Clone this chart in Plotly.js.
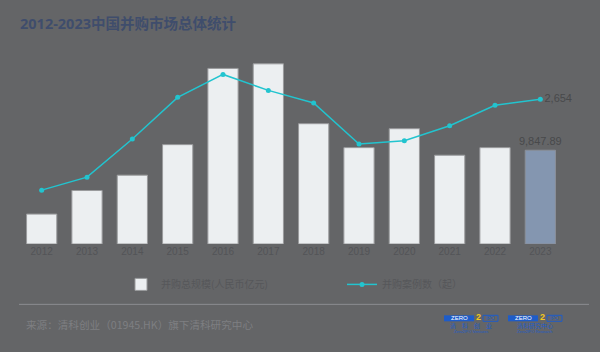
<!DOCTYPE html>
<html><head><meta charset="utf-8">
<script src="https://cdn.plot.ly/plotly-3.0.1.min.js"></script>
<style>html,body{margin:0;padding:0;background:#646567;}#chart{width:600px;height:352px;}</style>
</head><body><div id="chart"></div>
<script>
const years = ['2012','2013','2014','2015','2016','2017','2018','2019','2020','2021','2022','2023'];
const dealValue = [3143, 5615, 7228, 10434, 18438, 18920, 12634, 10120, 12110, 9324, 10120, 9847.89];
const dealCount = [988, 1226, 1927, 2690, 3111, 2818, 2586, 1835, 1896, 2170, 2544, 2654];
const seriesNames = ['并购总规模(人民币亿元)', '并购案例数（起）'];
const titleText = '2012-2023中国并购市场总体统计';
const sourceText = '来源：清科创业（01945.HK）旗下清科研究中心';

const fmt = (v, d) => v.toLocaleString('en-US', {minimumFractionDigits: d, maximumFractionDigits: d});
const last = years.length - 1;
const barColors = years.map((y, i) => i === last ? '#8496b0' : '#eceff1');
const barLines = years.map((y, i) => i === last ? '#8a8f98' : '#9a9b9d');
const barText = dealValue.map((v, i) => i === last ? fmt(v, 2) : '');
const lineText = dealCount.map((v, i) => i === last ? fmt(v, 0) : '');

const cjk = '"Noto Sans CJK SC", "Noto Sans", sans-serif';
const titleFamily = '"Noto Sans", "Noto Sans CJK SC", sans-serif';
const latin = '"Liberation Sans", Arial, sans-serif';

const traces = [
  {type: 'bar', x: years, y: dealValue, name: seriesNames[0], legend: 'legend',
   marker: {color: barColors, line: {color: barLines, width: 1}},
   width: 0.667, text: barText, textposition: 'outside', cliponaxis: false, constraintext: 'none',
   textfont: {family: latin, size: 11, color: '#48494b'}, hoverinfo: 'x+y'},
  {type: 'scatter', mode: 'lines+markers+text', x: years, y: dealCount, yaxis: 'y2',
   name: seriesNames[1], legend: 'legend2',
   line: {color: '#22c4cf', width: 1.5}, marker: {color: '#22c4cf', size: 5},
   text: lineText, textposition: 'middle right', cliponaxis: false,
   textfont: {family: latin, size: 11, color: '#48494b'}}
];

const M = {l: 19, r: 37, t: 40, b: 107.5};
const PW = 600 - M.l - M.r, PH = 352 - M.t - M.b;
function px(x) { return (x - M.l) / PW; }
function py(y) { return (352 - M.b - y) / PH; }

function logo(x0, cn, en) {
  const shapes = [
    {type: 'rect', xref: 'paper', yref: 'paper', layer: 'above', x0: px(x0), x1: px(x0 + 30), y0: py(322), y1: py(316), fillcolor: '#1e5cc8', line: {width: 0}},
    {type: 'rect', xref: 'paper', yref: 'paper', layer: 'above', x0: px(x0 + 39), x1: px(x0 + 54), y0: py(322), y1: py(316), fillcolor: 'rgba(0,0,0,0)', line: {color: '#1e5cc8', width: 1}}
  ];
  const anns = [
    {x: px(x0 + 15), y: py(319), text: 'ZERO', font: {family: latin, size: 6, color: '#ffffff'}},
    {x: px(x0 + 34.5), y: py(318), text: '<b>2</b>', font: {family: latin, size: 9, color: '#f2c81c'}},
    {x: px(x0 + 46.5), y: py(319), text: 'IPO', font: {family: latin, size: 5, color: '#1e5cc8'}},
    {x: px(x0 + 27), y: py(326.5), text: cn, font: {family: cjk, size: 6, color: '#1e5cc8'}},
    {x: px(x0 + 27), y: py(332.5), text: en, font: {family: latin, size: 4, color: '#1e5cc8'}}
  ].map(a => Object.assign({xref: 'paper', yref: 'paper', showarrow: false, xanchor: 'center', yanchor: 'middle',
                            borderpad: 0}, a));
  return {shapes, anns};
}

const l1 = logo(444, '清　科　创　业', 'Zero2IPO Ventures');
const l2 = logo(508, '清科研究中心', 'Zero2IPO Research');

const layout = {
  width: 600, height: 352,
  paper_bgcolor: '#646567', plot_bgcolor: '#646567',
  margin: M,
  showlegend: true,
  title: {text: '<b>' + titleText + '</b>', x: px(20), xref: 'paper', xanchor: 'left', y: 1 - 24/352, yanchor: 'middle',
          font: {family: titleFamily, size: 14.5, color: '#3f4d6c'}},
  xaxis: {type: 'category', range: [-0.5, 11.5], showgrid: false, zeroline: false, showline: false, ticks: '',
          tickfont: {family: latin, size: 10, color: '#535457'}, fixedrange: true},
  yaxis: {range: [0, 104.76 * PH], visible: false, showgrid: false, zeroline: false, fixedrange: true},
  yaxis2: {range: [0, 18.3 * PH], overlaying: 'y', side: 'right', visible: false, showgrid: false, zeroline: false, fixedrange: true},
  legend: {orientation: 'h', x: px(121), xanchor: 'left', y: py(285), yanchor: 'middle', bgcolor: 'rgba(0,0,0,0)',
           font: {family: cjk, size: 10, color: '#56575a'}},
  legend2: {orientation: 'h', x: px(342), xanchor: 'left', y: py(285), yanchor: 'middle', bgcolor: 'rgba(0,0,0,0)',
           font: {family: cjk, size: 10, color: '#56575a'}},
  shapes: [
    {type: 'line', xref: 'paper', yref: 'paper', x0: px(19), x1: px(589), y0: py(305), y1: py(305), line: {color: '#8c8d90', width: 1}}
  ].concat(l1.shapes, l2.shapes),
  annotations: [
    {xref: 'paper', yref: 'paper', x: px(24), y: py(325), xanchor: 'left', yanchor: 'middle', showarrow: false,
     text: sourceText, font: {family: cjk, size: 10.6, color: '#7e7f82'}}
  ].concat(l1.anns, l2.anns),
  bargap: 0.333
};

Plotly.newPlot('chart', traces, layout, {staticPlot: true, displayModeBar: false});
</script></body></html>
